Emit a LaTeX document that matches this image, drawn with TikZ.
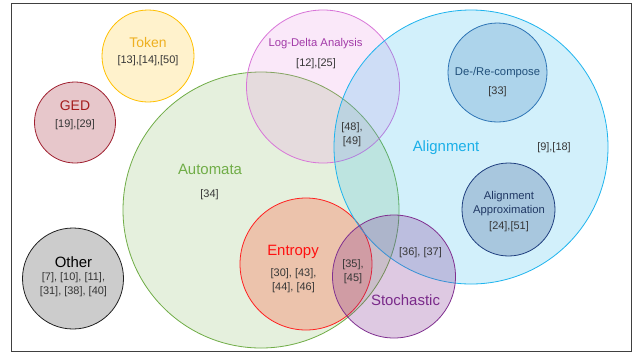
\documentclass[tikz,border=0pt]{standalone}
\usepackage{fontspec}
\setmainfont{Liberation Sans}
\definecolor{frameline}{HTML}{404040}
\definecolor{autoline}{HTML}{70AD47}
\definecolor{entline}{HTML}{FF2020}
\definecolor{entfill}{HTML}{F2A58C}
\definecolor{logline}{HTML}{D874D8}
\definecolor{logfill}{HTML}{E880E0}
\definecolor{alnline}{HTML}{1EB4EE}
\definecolor{decline}{HTML}{2E75B6}
\definecolor{apxline}{HTML}{1F3F7F}
\definecolor{stoline}{HTML}{803090}
\definecolor{tokline}{HTML}{FFC000}
\definecolor{gedline}{HTML}{A02030}
\definecolor{othline}{HTML}{202020}
\definecolor{othfill}{HTML}{CCCCCC}
\definecolor{toktext}{HTML}{EEB020}
\definecolor{gedtext}{HTML}{A51C1C}
\definecolor{logtext}{HTML}{A23AA8}
\definecolor{alntext}{HTML}{1AAFE8}
\definecolor{dectext}{HTML}{1F4E79}
\definecolor{apxtext}{HTML}{203864}
\definecolor{enttext}{HTML}{FF1010}
\definecolor{stotext}{HTML}{7A2A8A}
\definecolor{refgray}{HTML}{363636}
\begin{document}
\begin{tikzpicture}[x=1bp,y=-1bp,
    set/.style={circle,draw,line width=0.8bp,inner sep=0pt},
    big/.style={font=\fontsize{15}{18}\selectfont},
    mid/.style={font=\fontsize{14}{17}\selectfont},
    small/.style={font=\fontsize{11.3}{14}\selectfont},
    refs/.style={font=\fontsize{11}{14}\selectfont,text=refgray,align=center}]
    \useasboundingbox (0,0) rectangle (634,353);
    \fill[white] (0,0) rectangle (634,353);
    \draw[frameline,line width=0.8bp] (11,3) rectangle (631,351);
    % the sets
    \node[set,draw=autoline,fill=autoline,fill opacity=.18,minimum size=276bp] (automata) at (261,210) {};
    \node[set,draw=entline,fill=entfill,fill opacity=.6,minimum size=132bp] (entropy) at (306,264) {};
    \node[set,draw=logline,fill=logfill,fill opacity=.18,minimum size=153bp] (logdelta) at (323,86.5) {};
    \node[set,draw=alnline,fill=alnline,fill opacity=.2,minimum size=274bp] (alignment) at (471,147) {};
    \node[set,draw=decline,fill=decline,fill opacity=.22,minimum size=99bp] (decompose) at (497.5,72.5) {};
    \node[set,draw=apxline,fill=apxline,fill opacity=.23,minimum size=93bp] (approx) at (508.5,209.5) {};
    \node[set,draw=stoline,fill=stoline,fill opacity=.26,minimum size=123bp] (stochastic) at (394,276.5) {};
    \node[set,draw=tokline,fill=tokline,fill opacity=.2,minimum size=92bp] (token) at (148,56) {};
    \node[set,draw=gedline,fill=gedline,fill opacity=.25,minimum size=81bp] (ged) at (75,122.5) {};
    \node[set,draw=othline,fill=othfill,minimum size=101bp] (other) at (73,278.5) {};
    % labels
    \node[mid,text=toktext] (tokenlbl) at (148,43) {Token};
    \node[refs] (tokenref) at (148,60.5) {[13],[14],[50]};
    \node[mid,text=gedtext] (gedlbl) at (75,106) {GED};
    \node[refs] (gedref) at (75,125) {[19],[29]};
    \node[small,text=logtext] (logdeltalbl) at (315.5,44) {Log-Delta Analysis};
    \node[refs] (logdeltaref) at (316,64) {[12],[25]};
    \node[small,text=dectext] (decomposelbl) at (497.5,73) {De-/Re-compose};
    \node[refs] (decomposeref) at (497.5,92) {[33]};
    \node[refs] (logalnref) at (352,134.5) {[48],\\{}[49]};
    \node[big,text=alntext] (alignmentlbl) at (446,148) {Alignment};
    \node[refs] (alignmentref) at (554,148) {[9],[18]};
    \node[big,text=autoline] (automatalbl) at (210,169) {Automata};
    \node[refs] (automataref) at (209.5,194.5) {[34]};
    \node[small,text=apxtext,align=center] (approxlbl) at (509,203.5) {Alignment\\Approximation};
    \node[refs] (approxref) at (509,226.5) {[24],[51]};
    \node[refs] (stoalnref) at (420.5,253) {[36], [37]};
    \node[big,text=enttext] (entropylbl) at (293,252) {Entropy};
    \node[refs] (entropyref) at (293.5,280.5) {[30], [43],\\{}[44], [46]};
    \node[refs] (entstoref) at (353,271.5) {[35],\\{}[45]};
    \node[big,text=stotext] (stochasticlbl) at (405.5,300.5) {Stochastic};
    \node[big] (otherlbl) at (73.5,262) {Other};
    \node[refs] (otherref) at (73.5,285) {[7], [10], [11],\\{}[31], [38], [40]};
\end{tikzpicture}
\end{document}
